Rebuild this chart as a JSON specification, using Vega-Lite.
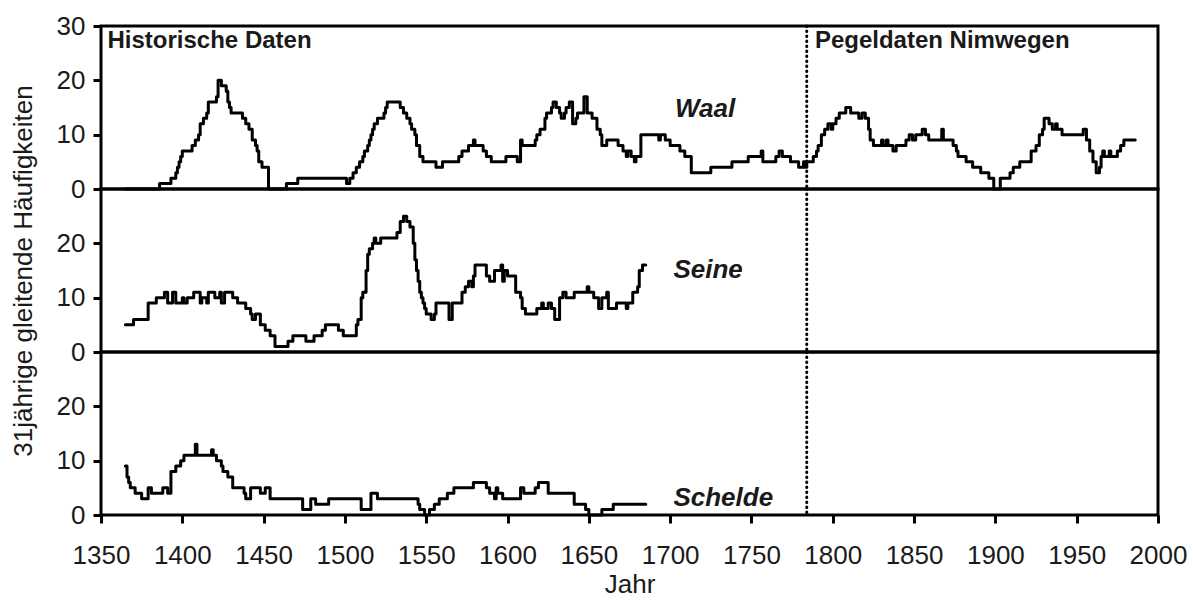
{
 "$schema": "https://vega.github.io/schema/vega-lite/v6.json",
 "padding": {"left": 8, "top": 11, "right": 5, "bottom": 0},
 "background": "white",
 "spacing": 0,
 "bounds": "flush",
 "config": {
  "view": {"stroke": "black", "strokeWidth": 3},
  "font": "Liberation Sans",
  "line": {"strokeJoin": "round", "strokeCap": "round"},
  "axis": {"labelFont": "Liberation Sans", "labelFontSize": 26, "labelColor": "#1a1a1a", "titleFont": "Liberation Sans", "titleFontSize": 26, "titleFontWeight": "normal", "titleColor": "#1a1a1a", "domain": false, "tickColor": "black", "tickWidth": 3, "tickSize": 8, "grid": false, "labelPadding": 8, "labelFlush": false, "labelOverlap": false}
 },
 "datasets": {
  "waal": [
   {"j":1365,"v":0},{"j":1386,"v":1},{"j":1393,"v":2},{"j":1396,"v":3},{"j":1397,"v":4},{"j":1398,"v":5},{"j":1399,"v":6},{"j":1400,"v":7},{"j":1406,"v":8},{"j":1408,"v":9},{"j":1410,"v":10},{"j":1411,"v":12},{"j":1413,"v":13},{"j":1415,"v":14},{"j":1416,"v":16},{"j":1421,"v":17},{"j":1422,"v":20},{"j":1424,"v":19},{"j":1427,"v":18},{"j":1428,"v":16},{"j":1429,"v":15},{"j":1430,"v":14},{"j":1437,"v":13},{"j":1439,"v":12},{"j":1441,"v":11},{"j":1443,"v":9},{"j":1445,"v":8},{"j":1446,"v":7},{"j":1447,"v":5},{"j":1449,"v":4},{"j":1453,"v":0},{"j":1464,"v":1},{"j":1471,"v":2},{"j":1501,"v":1},{"j":1503,"v":2},{"j":1505,"v":3},{"j":1507,"v":4},{"j":1509,"v":5},{"j":1511,"v":6},{"j":1512,"v":7},{"j":1514,"v":8},{"j":1515,"v":9},{"j":1516,"v":10},{"j":1517,"v":11},{"j":1518,"v":12},{"j":1520,"v":13},{"j":1524,"v":14},{"j":1525,"v":15},{"j":1526,"v":16},{"j":1534,"v":15},{"j":1536,"v":14},{"j":1538,"v":13},{"j":1540,"v":12},{"j":1541,"v":11},{"j":1543,"v":10},{"j":1544,"v":8},{"j":1546,"v":6},{"j":1548,"v":5},{"j":1556,"v":4},{"j":1560,"v":5},{"j":1570,"v":6},{"j":1572,"v":7},{"j":1576,"v":8},{"j":1579,"v":9},{"j":1580,"v":8},{"j":1585,"v":7},{"j":1587,"v":6},{"j":1590,"v":5},{"j":1599,"v":6},{"j":1606,"v":5},{"j":1608,"v":9},{"j":1609,"v":8},{"j":1617,"v":9},{"j":1618,"v":10},{"j":1620,"v":11},{"j":1623,"v":13},{"j":1624,"v":14},{"j":1627,"v":15},{"j":1628,"v":16},{"j":1630,"v":15},{"j":1632,"v":14},{"j":1633,"v":13},{"j":1635,"v":14},{"j":1636,"v":15},{"j":1638,"v":16},{"j":1640,"v":12},{"j":1642,"v":13},{"j":1643,"v":14},{"j":1647,"v":17},{"j":1649,"v":14},{"j":1652,"v":13},{"j":1655,"v":11},{"j":1657,"v":10},{"j":1658,"v":8},{"j":1661,"v":9},{"j":1668,"v":8},{"j":1671,"v":7},{"j":1673,"v":6},{"j":1674,"v":7},{"j":1676,"v":6},{"j":1678,"v":5},{"j":1679,"v":6},{"j":1682,"v":10},{"j":1693,"v":9},{"j":1694,"v":10},{"j":1697,"v":9},{"j":1700,"v":8},{"j":1706,"v":7},{"j":1709,"v":6},{"j":1713,"v":3},{"j":1725,"v":4},{"j":1738,"v":5},{"j":1748,"v":6},{"j":1756,"v":7},{"j":1757,"v":5},{"j":1765,"v":6},{"j":1767,"v":7},{"j":1769,"v":6},{"j":1774,"v":5},{"j":1779,"v":4},{"j":1782,"v":5},{"j":1783,"v":4},{"j":1784,"v":5},{"j":1788,"v":6},{"j":1790,"v":7},{"j":1791,"v":8},{"j":1793,"v":10},{"j":1795,"v":11},{"j":1797,"v":12},{"j":1799,"v":11},{"j":1800,"v":12},{"j":1802,"v":13},{"j":1804,"v":14},{"j":1808,"v":15},{"j":1811,"v":14},{"j":1816,"v":13},{"j":1818,"v":14},{"j":1820,"v":13},{"j":1822,"v":11},{"j":1823,"v":9},{"j":1825,"v":8},{"j":1830,"v":9},{"j":1831,"v":8},{"j":1833,"v":9},{"j":1834,"v":8},{"j":1837,"v":7},{"j":1839,"v":8},{"j":1845,"v":9},{"j":1847,"v":10},{"j":1849,"v":9},{"j":1851,"v":10},{"j":1855,"v":11},{"j":1857,"v":10},{"j":1859,"v":9},{"j":1867,"v":11},{"j":1868,"v":9},{"j":1874,"v":8},{"j":1876,"v":7},{"j":1877,"v":6},{"j":1882,"v":5},{"j":1886,"v":4},{"j":1891,"v":3},{"j":1896,"v":2},{"j":1899,"v":0},{"j":1903,"v":2},{"j":1909,"v":3},{"j":1911,"v":4},{"j":1915,"v":5},{"j":1922,"v":7},{"j":1925,"v":8},{"j":1927,"v":10},{"j":1929,"v":11},{"j":1930,"v":13},{"j":1933,"v":12},{"j":1935,"v":11},{"j":1937,"v":12},{"j":1938,"v":11},{"j":1941,"v":10},{"j":1954,"v":11},{"j":1956,"v":9},{"j":1958,"v":7},{"j":1960,"v":5},{"j":1962,"v":3},{"j":1964,"v":4},{"j":1965,"v":6},{"j":1966,"v":7},{"j":1967,"v":6},{"j":1970,"v":7},{"j":1971,"v":6},{"j":1975,"v":7},{"j":1977,"v":8},{"j":1979,"v":9},{"j":1986,"v":9}
  ],
  "seine": [
   {"j":1365,"v":5},{"j":1370,"v":6},{"j":1379,"v":9},{"j":1384,"v":10},{"j":1389,"v":11},{"j":1391,"v":9},{"j":1394,"v":11},{"j":1396,"v":9},{"j":1400,"v":10},{"j":1401,"v":9},{"j":1403,"v":10},{"j":1407,"v":11},{"j":1411,"v":9},{"j":1412,"v":10},{"j":1415,"v":9},{"j":1416,"v":11},{"j":1420,"v":10},{"j":1423,"v":11},{"j":1424,"v":9},{"j":1426,"v":11},{"j":1431,"v":10},{"j":1434,"v":9},{"j":1439,"v":8},{"j":1442,"v":7},{"j":1443,"v":6},{"j":1445,"v":7},{"j":1448,"v":5},{"j":1451,"v":4},{"j":1454,"v":3},{"j":1457,"v":1},{"j":1465,"v":2},{"j":1468,"v":3},{"j":1476,"v":2},{"j":1481,"v":3},{"j":1486,"v":4},{"j":1488,"v":5},{"j":1496,"v":4},{"j":1499,"v":3},{"j":1507,"v":5},{"j":1508,"v":6},{"j":1510,"v":10},{"j":1511,"v":11},{"j":1513,"v":15},{"j":1514,"v":18},{"j":1515,"v":19},{"j":1517,"v":20},{"j":1518,"v":21},{"j":1519,"v":20},{"j":1522,"v":21},{"j":1532,"v":22},{"j":1534,"v":24},{"j":1536,"v":25},{"j":1538,"v":24},{"j":1540,"v":23},{"j":1542,"v":20},{"j":1543,"v":17},{"j":1544,"v":15},{"j":1545,"v":13},{"j":1546,"v":11},{"j":1547,"v":10},{"j":1548,"v":9},{"j":1549,"v":8},{"j":1550,"v":7},{"j":1553,"v":6},{"j":1555,"v":7},{"j":1556,"v":9},{"j":1564,"v":6},{"j":1566,"v":9},{"j":1572,"v":11},{"j":1574,"v":12},{"j":1576,"v":13},{"j":1578,"v":12},{"j":1579,"v":14},{"j":1580,"v":16},{"j":1587,"v":14},{"j":1589,"v":13},{"j":1592,"v":15},{"j":1596,"v":16},{"j":1597,"v":13},{"j":1598,"v":15},{"j":1600,"v":14},{"j":1605,"v":11},{"j":1608,"v":10},{"j":1609,"v":8},{"j":1611,"v":7},{"j":1618,"v":8},{"j":1621,"v":9},{"j":1622,"v":8},{"j":1625,"v":9},{"j":1627,"v":8},{"j":1629,"v":6},{"j":1632,"v":10},{"j":1634,"v":11},{"j":1636,"v":10},{"j":1641,"v":11},{"j":1649,"v":12},{"j":1650,"v":11},{"j":1653,"v":10},{"j":1656,"v":8},{"j":1658,"v":10},{"j":1661,"v":11},{"j":1662,"v":8},{"j":1667,"v":9},{"j":1673,"v":8},{"j":1674,"v":9},{"j":1677,"v":11},{"j":1680,"v":12},{"j":1681,"v":15},{"j":1683,"v":16},{"j":1685,"v":16}
  ],
  "schelde": [
   {"j":1365,"v":9},{"j":1366,"v":7},{"j":1367,"v":6},{"j":1368,"v":5},{"j":1371,"v":4},{"j":1375,"v":3},{"j":1379,"v":5},{"j":1381,"v":4},{"j":1388,"v":5},{"j":1391,"v":4},{"j":1393,"v":8},{"j":1396,"v":9},{"j":1399,"v":10},{"j":1401,"v":11},{"j":1408,"v":13},{"j":1409,"v":11},{"j":1418,"v":12},{"j":1419,"v":11},{"j":1421,"v":10},{"j":1424,"v":9},{"j":1425,"v":8},{"j":1428,"v":7},{"j":1431,"v":5},{"j":1438,"v":4},{"j":1439,"v":3},{"j":1442,"v":5},{"j":1448,"v":4},{"j":1451,"v":5},{"j":1454,"v":3},{"j":1474,"v":1},{"j":1479,"v":3},{"j":1482,"v":2},{"j":1490,"v":3},{"j":1510,"v":1},{"j":1516,"v":4},{"j":1520,"v":3},{"j":1545,"v":2},{"j":1546,"v":1},{"j":1549,"v":0},{"j":1552,"v":1},{"j":1555,"v":2},{"j":1558,"v":3},{"j":1563,"v":4},{"j":1567,"v":5},{"j":1579,"v":6},{"j":1587,"v":5},{"j":1589,"v":4},{"j":1592,"v":3},{"j":1593,"v":5},{"j":1594,"v":4},{"j":1597,"v":3},{"j":1608,"v":5},{"j":1610,"v":4},{"j":1617,"v":5},{"j":1619,"v":6},{"j":1625,"v":4},{"j":1641,"v":2},{"j":1648,"v":1},{"j":1650,"v":0},{"j":1658,"v":1},{"j":1665,"v":2},{"j":1685,"v":2}
  ]
 },
 "vconcat": [
  {
   "width": 1057, "height": 163,
   "layer": [
    {"data": {"name": "waal"},
     "mark": {"type": "line", "interpolate": "step-after", "color": "black", "strokeWidth": 3},
     "encoding": {
      "x": {"field": "j", "type": "quantitative", "scale": {"domain": [1350, 2000], "nice": false, "zero": false}, "axis": null},
      "y": {"field": "v", "type": "quantitative", "scale": {"domain": [0, 30], "nice": false}, "axis": {"values": [0, 10, 20, 30], "title": null}}
     }},
    {"data": {"values": [{"j": 1784}]},
     "mark": {"type": "rule", "color": "black", "strokeWidth": 3, "strokeDash": [0.5, 4.5], "strokeCap": "round"},
     "encoding": {"x": {"field": "j", "type": "quantitative"}}},
    {"data": {"values": [{"t": "Historische Daten"}]},
     "mark": {"type": "text", "font": "Liberation Sans", "fontSize": 24, "fontWeight": "bold", "align": "left", "baseline": "alphabetic", "color": "#1a1a1a"},
     "encoding": {"x": {"datum": 1354}, "y": {"datum": 26}, "text": {"field": "t"}}},
    {"data": {"values": [{"t": "Pegeldaten Nimwegen"}]},
     "mark": {"type": "text", "font": "Liberation Sans", "fontSize": 24, "fontWeight": "bold", "align": "left", "baseline": "alphabetic", "color": "#1a1a1a"},
     "encoding": {"x": {"datum": 1789}, "y": {"datum": 26}, "text": {"field": "t"}}},
    {"data": {"values": [{"t": "Waal"}]},
     "mark": {"type": "text", "font": "Liberation Sans", "fontSize": 26, "fontWeight": "bold", "fontStyle": "italic", "align": "left", "baseline": "alphabetic", "color": "#1a1a1a"},
     "encoding": {"x": {"datum": 1703}, "y": {"datum": 13.3}, "text": {"field": "t"}}}
   ]
  },
  {
   "width": 1057, "height": 163,
   "layer": [
    {"data": {"name": "seine"},
     "mark": {"type": "line", "interpolate": "step-after", "color": "black", "strokeWidth": 3},
     "encoding": {
      "x": {"field": "j", "type": "quantitative", "scale": {"domain": [1350, 2000], "nice": false, "zero": false}, "axis": null},
      "y": {"field": "v", "type": "quantitative", "scale": {"domain": [0, 30], "nice": false}, "axis": {"values": [0, 10, 20], "title": "31jährige gleitende Häufigkeiten", "titlePadding": 20}}
     }},
    {"data": {"values": [{"j": 1784}]},
     "mark": {"type": "rule", "color": "black", "strokeWidth": 3, "strokeDash": [0.5, 4.5], "strokeCap": "round"},
     "encoding": {"x": {"field": "j", "type": "quantitative"}}},
    {"data": {"values": [{"t": "Seine"}]},
     "mark": {"type": "text", "font": "Liberation Sans", "fontSize": 26, "fontWeight": "bold", "fontStyle": "italic", "align": "left", "baseline": "alphabetic", "color": "#1a1a1a"},
     "encoding": {"x": {"datum": 1702}, "y": {"datum": 13.6}, "text": {"field": "t"}}}
   ]
  },
  {
   "width": 1057, "height": 163,
   "layer": [
    {"data": {"name": "schelde"},
     "mark": {"type": "line", "interpolate": "step-after", "color": "black", "strokeWidth": 3},
     "encoding": {
      "x": {"field": "j", "type": "quantitative", "scale": {"domain": [1350, 2000], "nice": false, "zero": false}, "axis": {"values": [1350, 1400, 1450, 1500, 1550, 1600, 1650, 1700, 1750, 1800, 1850, 1900, 1950, 2000], "format": "d", "title": "Jahr", "labelPadding": 19, "titlePadding": 3}},
      "y": {"field": "v", "type": "quantitative", "scale": {"domain": [0, 30], "nice": false}, "axis": {"values": [0, 10, 20], "title": null}}
     }},
    {"data": {"values": [{"j": 1784}]},
     "mark": {"type": "rule", "color": "black", "strokeWidth": 3, "strokeDash": [0.5, 4.5], "strokeCap": "round"},
     "encoding": {"x": {"field": "j", "type": "quantitative"}}},
    {"data": {"values": [{"t": "Schelde"}]},
     "mark": {"type": "text", "font": "Liberation Sans", "fontSize": 26, "fontWeight": "bold", "fontStyle": "italic", "align": "left", "baseline": "alphabetic", "color": "#1a1a1a"},
     "encoding": {"x": {"datum": 1702}, "y": {"datum": 1.7}, "text": {"field": "t"}}}
   ]
  }
 ]
}
